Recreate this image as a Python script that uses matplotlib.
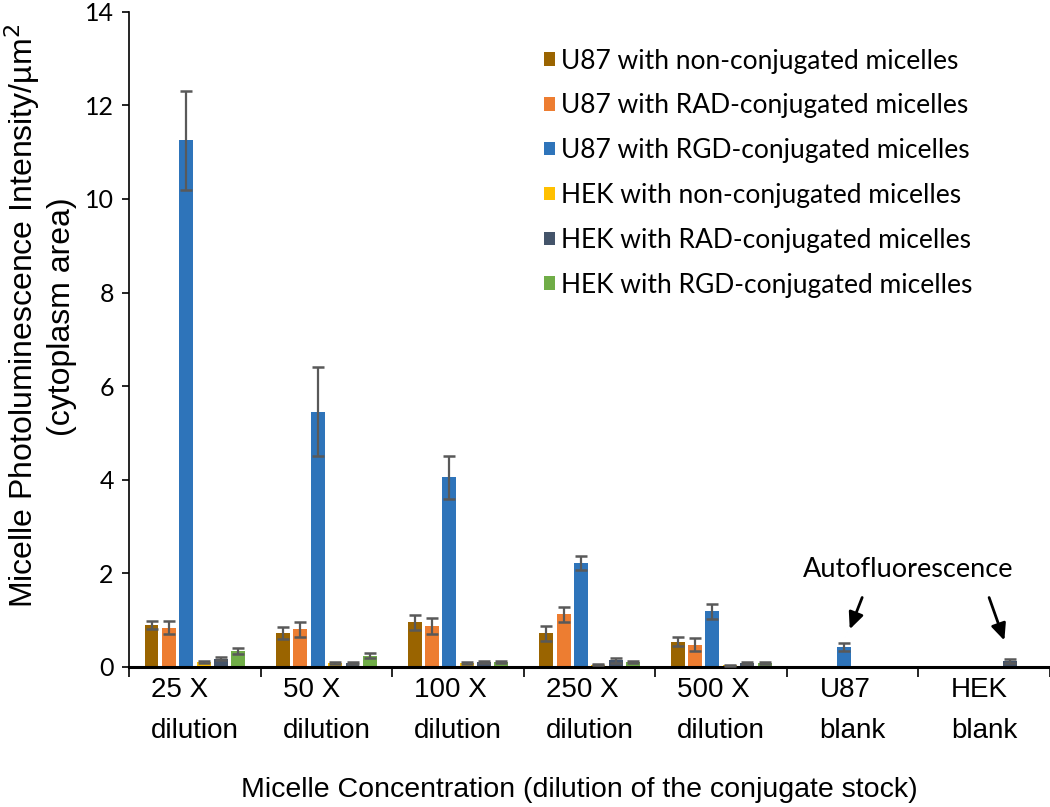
import numpy as np
import matplotlib
matplotlib.use("Agg")
import matplotlib.pyplot as plt

# values (None = no bar)
categories = ["25 X\ndilution", "50 X\ndilution", "100 X\ndilution", "250 X\ndilution",
              "500 X\ndilution", "U87\nblank", "HEK\nblank"]
series_names = ["U87 with non-conjugated micelles", "U87 with RAD-conjugated micelles",
                "U87 with RGD-conjugated micelles", "HEK with non-conjugated micelles",
                "HEK with RAD-conjugated micelles", "HEK with RGD-conjugated micelles"]

u87_non = [0.90, 0.72, 0.96, 0.72, 0.54, None, None]
u87_non_err = [0.08, 0.13, 0.16, 0.16, 0.09, None, None]
u87_rad = [0.84, 0.81, 0.87, 1.13, 0.48, None, None]
u87_rad_err = [0.14, 0.16, 0.17, 0.16, 0.14, None, None]
u87_rgd = [11.25, 5.45, 4.05, 2.22, 1.19, 0.43, None]
u87_rgd_err = [1.05, 0.95, 0.46, 0.15, 0.16, 0.08, None]
hek_non = [0.11, 0.09, 0.08, 0.05, 0.04, None, None]
hek_non_err = [0.02, 0.02, 0.02, 0.01, 0.01, None, None]
hek_rad = [0.18, 0.09, 0.10, 0.14, 0.08, None, 0.13]
hek_rad_err = [0.03, 0.02, 0.02, 0.05, 0.02, None, 0.04]
hek_rgd = [0.34, 0.24, 0.10, 0.10, 0.08, None, None]
hek_rgd_err = [0.06, 0.05, 0.02, 0.02, 0.02, None, None]

values = [u87_non, u87_rad, u87_rgd, hek_non, hek_rad, hek_rgd]
errors = [u87_non_err, u87_rad_err, u87_rgd_err, hek_non_err, hek_rad_err, hek_rgd_err]
colors = ["#9A6400", "#ED7D31", "#2E74BA", "#FFC000", "#44546A", "#70AD47"]

fig = plt.figure(figsize=(10.5, 8.07), dpi=100)
ax = fig.add_axes([0.123, 0.1735, 0.877, 0.812])

x = np.arange(len(categories))
step = 0.132
width = 0.106
for i in range(len(values)):
    v = np.array([np.nan if a is None else a for a in values[i]], dtype=float)
    e = np.array([np.nan if a is None else a for a in errors[i]], dtype=float)
    pos = x + (i - 2.5) * step
    ax.bar(pos, v, width=width, color=colors[i], label=series_names[i], zorder=2)
    ax.errorbar(pos, v, yerr=e, fmt="none", ecolor="#595959", elinewidth=1.6,
                capsize=4.5, capthick=1.8, zorder=3)

ax.set_xlim(-0.5, len(categories) - 0.5)
ax.set_ylim(0, 14)
ax.set_yticks(np.arange(0, 15, 2))
ax.tick_params(axis="y", labelsize=18, length=5, width=1.2, direction="out", pad=6)
for lab in ax.get_yticklabels():
    lab.set_family("Lato")

# category labels centred, tick marks on the group boundaries
ax.set_xticks(np.arange(-0.5, len(categories), 1.0))
ax.set_xticklabels([])
ax.tick_params(axis="x", length=7, width=1.2, direction="out")
for i, c in enumerate(categories):
    ax.text(i, -0.22, c, ha="center", va="top", multialignment="left",
            fontsize=20, family="Liberation Sans", linespacing=1.75)

ax.spines["top"].set_visible(False)
ax.spines["right"].set_visible(False)
ax.spines["left"].set_linewidth(1.2)
ax.spines["bottom"].set_linewidth(2.2)

ax.set_ylabel("Micelle Photoluminescence Intensity/\u00b5m$^2$\n(cytoplasm area)",
              fontsize=23, family="Liberation Sans", linespacing=1.2)
ax.yaxis.set_label_coords(-0.057, 0.535)
fig.text(0.552, 0.021, "Micelle Concentration (dilution of the conjugate stock)",
         ha="center", va="center", fontsize=20.5, family="Liberation Sans")

ax.legend(loc="upper left", bbox_to_anchor=(0.425, 0.98), frameon=False,
          prop={"family": "Lato", "size": 19}, handlelength=0.4, handleheight=0.4,
          handletextpad=0.25, labelspacing=0.75)

# autofluorescence note with arrows to the blank bars
ax.text(5.42, 2.09, "Autofluorescence", ha="center", va="center",
        fontsize=19.5, family="Lato")
ax.annotate("", xy=(4.97, 0.75), xytext=(5.08, 1.54),
            arrowprops=dict(arrowstyle="-|>,head_length=1.0,head_width=0.45",
                            color="black", lw=2))
ax.annotate("", xy=(6.16, 0.51), xytext=(6.03, 1.54),
            arrowprops=dict(arrowstyle="-|>,head_length=1.0,head_width=0.45",
                            color="black", lw=2))

fig.savefig("out.png", dpi=100)
